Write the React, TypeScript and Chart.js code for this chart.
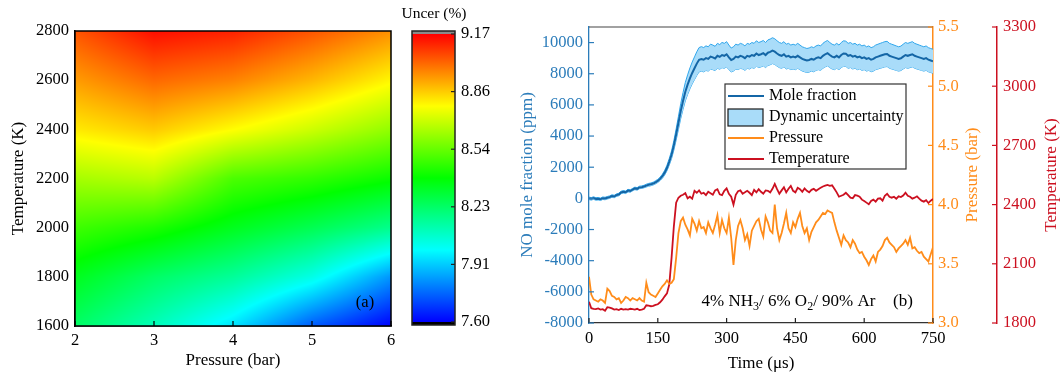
import React, { useEffect, useRef } from 'react';
import { Chart, registerables } from 'chart.js';
Chart.register(...registerables);

const SERIF = "'Liberation Serif', 'Times New Roman', serif";

// ---------- Panel (a): uncertainty map ----------
const pressureBar = [2, 3, 4, 5, 6];
const temperatureK = [1600, 1800, 2000, 2200, 2400, 2600, 2800];
const uncer2bar = [8.23, 8.34, 8.48, 8.64, 8.81, 8.93, 9.04];
const uncer3bar = [8.10, 8.23, 8.43, 8.67, 8.86, 9.01, 9.15];
const uncer4bar = [7.95, 8.15, 8.34, 8.50, 8.78, 8.97, 9.12];
const uncer5bar = [7.74, 8.03, 8.26, 8.46, 8.70, 8.89, 9.04];
const uncer6bar = [7.60, 7.83, 8.17, 8.40, 8.61, 8.79, 8.95];
const colorbarMin = 7.6;
const colorbarMax = 9.17;
const colorbarTickLabels = ['9.17', '8.86', '8.54', '8.23', '7.91', '7.60'];
const pressureTicks = [2, 3, 4, 5, 6];
const temperatureTicks = [1600, 1800, 2000, 2200, 2400, 2600, 2800];

// ---------- Panel (b): time histories ----------
const timeUs = Array.from({ length: 151 }, (_, i) => i * 5);
const moleFractionPpm = [
  0, -30, 20, -40, -20, -60, 10, -10, 40, 80,
  150, 120, 210, 250, 380, 420, 390, 500, 470, 560,
  640, 610, 700, 720, 760, 820, 870, 900, 950, 1030,
  1120, 1250, 1420, 1650, 1950, 2350, 2800, 3400, 4100, 4850,
  5600, 6250, 6850, 7300, 7700, 8050, 8350, 8650, 8900, 8950,
  8900, 9000, 8950, 9100, 9050, 8980, 9150, 9080, 9200, 9150,
  9250, 9050, 8880, 8950, 9100, 9050, 9150, 9100, 9000, 9150,
  9100, 9200, 9150, 9300, 9200, 9250, 9320, 9200, 9350, 9400,
  9480, 9420, 9300, 9200, 9150, 9250, 9100, 9150, 9050, 9100,
  9050, 9150, 9050, 8950, 8900, 8850, 8880, 8950, 8900, 9000,
  9050, 9000, 9150, 9250, 9320, 9200, 9100, 9050, 9150, 9050,
  9200, 9300, 9280, 9150, 9200, 9100, 9150, 9050, 9100, 9000,
  9050, 8950, 9000, 8900, 8950, 9050, 9100, 9150, 9200, 9250,
  9270, 9150, 9100, 9050, 9000, 8950, 8990, 9100, 9200, 9150,
  9200, 9250, 9150, 9100, 9050, 9000, 8950, 9000, 8900, 8850,
  8800,
];
const dynamicUncertaintyPpm = [
  80, 80, 80, 80, 80, 80, 80, 80, 80, 80,
  80, 80, 80, 80, 80, 80, 80, 80, 80, 80,
  80, 80, 80, 80, 80, 90, 90, 90, 90, 100,
  100, 110, 130, 150, 180, 210, 250, 300, 360, 420,
  480, 540, 590, 630, 670, 700, 730, 760, 780, 790,
  780, 790, 780, 800, 790, 780, 800, 790, 810, 800,
  810, 790, 770, 780, 800, 790, 800, 795, 785, 800,
  795, 805, 800, 815, 805, 810, 815, 805, 820, 825,
  830, 825, 815, 805, 800, 810, 795, 800, 790, 795,
  790, 800, 790, 780, 775, 770, 775, 780, 775, 785,
  790, 785, 800, 810, 815, 805, 795, 790, 800, 790,
  805, 815, 810, 800, 805, 795, 800, 790, 795, 785,
  790, 780, 785, 775, 780, 790, 795, 800, 805, 810,
  810, 800, 795, 790, 785, 780, 785, 795, 805, 800,
  805, 810, 800, 795, 790, 785, 780, 785, 775, 770,
  770,
];
const pressureBarSeries = [
  3.39, 3.24, 3.20, 3.19, 3.18, 3.20, 3.19, 3.17, 3.29, 3.27,
  3.23, 3.22, 3.20, 3.21, 3.17, 3.19, 3.22, 3.21, 3.19, 3.21,
  3.20, 3.19, 3.21, 3.19, 3.18, 3.34, 3.26, 3.24, 3.23, 3.22,
  3.25, 3.28, 3.31, 3.33, 3.36, 3.33, 3.34, 3.37, 3.55, 3.76,
  3.86, 3.89, 3.83, 3.79, 3.74, 3.88, 3.84, 3.78, 3.86, 3.80,
  3.81, 3.76, 3.85, 3.80, 3.76, 3.83, 3.91, 3.76, 3.87, 3.80,
  3.76, 3.89, 3.72, 3.49, 3.70, 3.82, 3.87, 3.80, 3.70, 3.75,
  3.65, 3.78, 3.82, 3.86, 3.88, 3.79, 3.73, 3.90, 3.85, 3.78,
  3.76, 4.00, 3.80, 3.70, 3.76, 3.84, 3.93, 3.80, 3.76, 3.85,
  3.81, 3.88, 3.93, 3.82, 3.76, 3.80, 3.70, 3.77, 3.81, 3.85,
  3.87, 3.90, 3.93, 3.92, 3.95, 3.94, 3.93, 3.85, 3.78, 3.72,
  3.66, 3.74, 3.70, 3.68, 3.64, 3.70, 3.67, 3.62, 3.59, 3.60,
  3.56, 3.53, 3.49, 3.54, 3.57, 3.52, 3.60, 3.62, 3.65, 3.70,
  3.72, 3.68, 3.66, 3.64, 3.60, 3.63, 3.65, 3.67, 3.70, 3.66,
  3.72, 3.63, 3.64, 3.61, 3.59, 3.60, 3.56, 3.54, 3.52, 3.58,
  3.64,
];
const temperatureSeriesK = [
  1908, 1875, 1872, 1870, 1874, 1868, 1870, 1862, 1880, 1878,
  1874, 1868, 1870, 1866, 1872, 1868, 1870, 1868, 1872, 1870,
  1868, 1872, 1866, 1868, 1872, 1890, 1888, 1885, 1887, 1892,
  1895, 1905, 1918, 1935, 1950, 1995, 2130, 2290, 2410, 2435,
  2445, 2450, 2458, 2432, 2440, 2430, 2470, 2460, 2472, 2455,
  2460, 2448, 2465, 2458, 2450, 2472, 2478, 2452, 2448, 2470,
  2482, 2455, 2440, 2400, 2450, 2468, 2472, 2455, 2462, 2470,
  2460, 2448, 2475, 2462, 2478, 2465, 2455, 2472, 2470, 2462,
  2480, 2505, 2478, 2455, 2472, 2488, 2462, 2480, 2495, 2470,
  2462, 2485, 2478, 2465, 2482, 2470, 2462, 2475, 2480, 2470,
  2478, 2485, 2492, 2496, 2500, 2495, 2498, 2480, 2462, 2440,
  2445, 2450, 2460, 2448, 2435, 2432, 2448, 2445, 2440, 2425,
  2418, 2410, 2402, 2418, 2425, 2415, 2430, 2432, 2420, 2445,
  2455, 2440, 2435, 2440, 2430, 2442, 2438, 2446, 2460, 2445,
  2440, 2430, 2435, 2442, 2430, 2420, 2415, 2422, 2408, 2420,
  2428,
];
const timeTicks = [0, 150, 300, 450, 600, 750];
const moleTicks = [-8000, -6000, -4000, -2000, 0, 2000, 4000, 6000, 8000, 10000];
const pressureAxisTicks = [3.0, 3.5, 4.0, 4.5, 5.0, 5.5];
const temperatureAxisTicks = [1800, 2100, 2400, 2700, 3000, 3300];

// ---------- styling ----------
const C_BLUE_AX = '#2b7cba';
const C_MOLE = '#1466a6';
const C_BAND_EDGE = '#2fa6ec';
const C_BAND_FILL = '#a9dcf9';
const C_PRES = '#ff8c1a';
const C_TEMP = '#cc1020';
const cmapStops: number[][] = [
  [0, 0, 0, 255],
  [0.25, 0, 255, 255],
  [0.5, 0, 255, 0],
  [0.75, 255, 255, 0],
  [1, 255, 0, 0],
];

function colorFor(v: number): number[] {
  let f = (v - colorbarMin) / (colorbarMax - colorbarMin);
  f = Math.max(0, Math.min(1, f));
  for (let k = 0; k < cmapStops.length - 1; k++) {
    const a = cmapStops[k], b = cmapStops[k + 1];
    if (f <= b[0]) {
      const t = (f - a[0]) / (b[0] - a[0]);
      return [a[1] + (b[1] - a[1]) * t, a[2] + (b[2] - a[2]) * t, a[3] + (b[3] - a[3]) * t];
    }
  }
  const l = cmapStops[cmapStops.length - 1];
  return [l[1], l[2], l[3]];
}

const uncerGrid = [uncer2bar, uncer3bar, uncer4bar, uncer5bar, uncer6bar];
function seg(arr: number[], v: number): [number, number] {
  let i = 0;
  while (i < arr.length - 2 && v > arr[i + 1]) i++;
  const f = (v - arr[i]) / (arr[i + 1] - arr[i]);
  return [i, Math.max(0, Math.min(1, f))];
}
function uncerAt(p: number, t: number) {
  const [i, fp] = seg(pressureBar, p);
  const [j, ft] = seg(temperatureK, t);
  const g = uncerGrid;
  const a = g[i][j] * (1 - ft) + g[i][j + 1] * ft;
  const b = g[i + 1][j] * (1 - ft) + g[i + 1][j + 1] * ft;
  return a * (1 - fp) + b * fp;
}

type TickSpec = { id: string; len: number; color: string; width: number; atLeftEdge?: boolean };
function drawTickMarks(chart: any, specs: TickSpec[]) {
  const ctx = chart.ctx;
  specs.forEach((s) => {
    const sc = chart.scales[s.id];
    ctx.save();
    ctx.strokeStyle = s.color;
    ctx.lineWidth = s.width;
    sc.ticks.forEach((t: any) => {
      const p = sc.getPixelForValue(t.value);
      ctx.beginPath();
      if (sc.isHorizontal()) {
        ctx.moveTo(p, sc.top);
        ctx.lineTo(p, sc.top + s.len);
      } else {
        const x0 = s.atLeftEdge ? sc.left : sc.right;
        ctx.moveTo(x0, p);
        ctx.lineTo(x0 + s.len, p);
      }
      ctx.stroke();
    });
    ctx.restore();
  });
}

const heatmapPlugin = {
  id: 'heatmap',
  beforeDatasetsDraw(chart: any) {
    const { ctx, chartArea: a, scales } = chart;
    const x0 = Math.round(a.left), y0 = Math.round(a.top);
    const w = Math.round(a.right) - x0, h = Math.round(a.bottom) - y0;
    const off = document.createElement('canvas');
    off.width = w;
    off.height = h;
    const octx = off.getContext('2d')!;
    const img = octx.createImageData(w, h);
    for (let j = 0; j < h; j++) {
      const T = scales.y.getValueForPixel(y0 + j + 0.5);
      for (let i = 0; i < w; i++) {
        const P = scales.x.getValueForPixel(x0 + i + 0.5);
        const c = colorFor(uncerAt(P, T));
        const k = (j * w + i) * 4;
        img.data[k] = c[0];
        img.data[k + 1] = c[1];
        img.data[k + 2] = c[2];
        img.data[k + 3] = 255;
      }
    }
    octx.putImageData(img, 0, 0);
    ctx.drawImage(off, x0, y0);
  },
  afterDatasetsDraw(chart: any) {
    const { ctx, chartArea: a } = chart;
    ctx.save();
    ctx.strokeStyle = '#000';
    ctx.lineWidth = 1.5;
    ctx.strokeRect(a.left, a.top, a.right - a.left, a.bottom - a.top);
    ctx.restore();
    drawTickMarks(chart, [{ id: 'x', len: -5, color: '#000', width: 1.2 }]);
    ctx.save();
    ctx.font = `16.5px ${SERIF}`;
    ctx.fillStyle = '#000';
    ctx.textAlign = 'center';
    ctx.textBaseline = 'middle';
    ctx.fillText('(a)', a.right - 26, a.bottom - 23);
    ctx.restore();
  },
};

const colorbarPlugin = {
  id: 'colorbar',
  afterDraw(chart: any) {
    const ctx = chart.ctx;
    const L = 412, R = 455, T = 31, B = 325, iT = 34, iB = 322;
    ctx.save();
    const g = ctx.createLinearGradient(0, iB, 0, iT);
    cmapStops.forEach((s) => g.addColorStop(s[0], `rgb(${s[1]},${s[2]},${s[3]})`));
    ctx.fillStyle = g;
    ctx.fillRect(L, iT, R - L, iB - iT);
    ctx.fillStyle = '#8a8a8a';
    ctx.fillRect(L, T, R - L, iT - T);
    ctx.fillStyle = '#000';
    ctx.fillRect(L, iB, R - L, B - iB);
    ctx.strokeStyle = '#222';
    ctx.lineWidth = 1.5;
    ctx.strokeRect(L, T, R - L, B - T);
    ctx.font = `16.5px ${SERIF}`;
    ctx.fillStyle = '#000';
    ctx.textBaseline = 'middle';
    ctx.textAlign = 'left';
    const n = colorbarTickLabels.length;
    colorbarTickLabels.forEach((lab, k) => {
      const y = iT + (k * (iB - iT)) / (n - 1);
      ctx.beginPath();
      ctx.moveTo(R, y);
      ctx.lineTo(R - 4, y);
      ctx.lineWidth = 1.2;
      ctx.stroke();
      ctx.fillText(lab, R + 6, y);
    });
    ctx.textAlign = 'center';
    ctx.font = `15.5px ${SERIF}`;
    ctx.fillText('Uncer (%)', 434, 14);
    ctx.restore();
  },
};

const rightDecorPlugin = {
  id: 'rightDecor',
  afterDatasetsDraw(chart: any) {
    const { ctx, chartArea: a, data } = chart;
    ctx.save();
    ctx.strokeStyle = '#444';
    ctx.lineWidth = 1.2;
    ctx.beginPath();
    ctx.moveTo(a.left, a.top);
    ctx.lineTo(a.right, a.top);
    ctx.stroke();
    ctx.restore();

    drawTickMarks(chart, [
      { id: 'x', len: -5, color: '#222', width: 1.2 },
      { id: 'yNO', len: 5, color: C_BLUE_AX, width: 1.2 },
      { id: 'yP', len: -5, color: C_PRES, width: 1.2, atLeftEdge: true },
      { id: 'yT', len: -5, color: C_TEMP, width: 1.2, atLeftEdge: true },
    ]);

    // legend
    ctx.save();
    const bx = 220, by = 84, bw = 181, bh = 85;
    ctx.fillStyle = '#fff';
    ctx.fillRect(bx, by, bw, bh);
    ctx.strokeStyle = '#333';
    ctx.lineWidth = 1.2;
    ctx.strokeRect(bx, by, bw, bh);
    ctx.font = `16px ${SERIF}`;
    ctx.textBaseline = 'middle';
    ctx.textAlign = 'left';
    ctx.fillStyle = '#000';
    const rows = [0, 1, 3, 4];
    rows.forEach((di, r) => {
      const ds = data.datasets[di];
      const y = by + 12 + r * 21;
      if (di === 1) {
        ctx.fillStyle = C_BAND_FILL;
        ctx.fillRect(bx + 3, y - 8, 35, 17);
        ctx.strokeStyle = '#1a1a1a';
        ctx.lineWidth = 1.2;
        ctx.strokeRect(bx + 3, y - 8, 35, 17);
      } else {
        ctx.strokeStyle = ds.borderColor;
        ctx.lineWidth = 2;
        ctx.beginPath();
        ctx.moveTo(bx + 3, y);
        ctx.lineTo(bx + 39, y);
        ctx.stroke();
      }
      ctx.fillStyle = '#000';
      ctx.fillText(ds.label, bx + 44, y);
    });
    ctx.restore();

    // mixture annotation
    ctx.save();
    ctx.fillStyle = '#000';
    ctx.textBaseline = 'alphabetic';
    ctx.textAlign = 'left';
    const big = `17px ${SERIF}`, small = `12px ${SERIF}`;
    const parts: [string, boolean][] = [
      ['4% NH', false], ['3', true], ['/ 6% O', false], ['2', true], ['/ 90% Ar', false],
    ];
    let x = 196.5;
    const base = 306;
    parts.forEach(([s, sub]) => {
      ctx.font = sub ? small : big;
      ctx.fillText(s, x, sub ? base + 4 : base);
      x += ctx.measureText(s).width;
    });
    ctx.font = big;
    ctx.fillText('(b)', 388, base);
    ctx.restore();
  },
  afterDraw(chart: any) {
    const { ctx, chartArea: a } = chart;
    const cy = (a.top + a.bottom) / 2;
    ctx.save();
    ctx.font = `17px ${SERIF}`;
    ctx.textAlign = 'center';
    ctx.textBaseline = 'middle';
    const drawV = (text: string, x: number, color: string) => {
      ctx.save();
      ctx.translate(x, cy);
      ctx.rotate(-Math.PI / 2);
      ctx.fillStyle = color;
      ctx.fillText(text, 0, 0);
      ctx.restore();
    };
    drawV('Pressure (bar)', chart.scales.yP.left + 40, C_PRES);
    drawV('Temperature (K)', chart.scales.yT.left + 55, C_TEMP);
    ctx.restore();
  },
};

export default function App() {
  const leftRef = useRef<HTMLCanvasElement>(null);
  const rightRef = useRef<HTMLCanvasElement>(null);

  useEffect(() => {
    Chart.defaults.font.family = SERIF;
    Chart.defaults.color = '#000';

    const gridPoints: { x: number; y: number }[] = [];
    pressureBar.forEach((p) => temperatureK.forEach((t) => gridPoints.push({ x: p, y: t })));

    const left = new Chart(leftRef.current!, {
      type: 'scatter',
      data: {
        datasets: [{ label: 'Uncer (%)', data: gridPoints, pointRadius: 0, showLine: false }],
      },
      options: {
        responsive: false,
        animation: false,
        events: [],
        layout: { padding: { left: 0, top: 31, right: 114, bottom: 0 } },
        plugins: { legend: { display: false }, tooltip: { enabled: false } },
        scales: {
          x: {
            type: 'linear',
            min: 2,
            max: 6,
            afterBuildTicks: (s: any) => { s.ticks = pressureTicks.map((v) => ({ value: v })); },
            afterFit: (s: any) => { s.height = 52; },
            grid: { display: false, drawTicks: false },
            border: { display: true, color: '#000', width: 1.5 },
            ticks: { color: '#000', font: { size: 16.5 }, padding: 5, maxRotation: 0, autoSkip: false, callback: (v: any) => String(v) },
            title: { display: true, text: 'Pressure (bar)', color: '#000', font: { size: 17 }, padding: { top: 0, bottom: 7 } },
          },
          y: {
            type: 'linear',
            min: 1600,
            max: 2800,
            afterBuildTicks: (s: any) => { s.ticks = temperatureTicks.map((v) => ({ value: v })); },
            afterFit: (s: any) => { s.width = 75; },
            grid: { display: false, drawTicks: false },
            border: { display: true, color: '#000', width: 1.5 },
            ticks: { color: '#000', font: { size: 16.5 }, padding: 6, autoSkip: false, callback: (v: any) => String(v) },
            title: { display: true, text: 'Temperature (K)', color: '#000', font: { size: 17 }, padding: { top: 8, bottom: 0 } },
          },
        },
      },
      plugins: [heatmapPlugin, colorbarPlugin],
    } as any);

    const xy = (arr: number[]) => timeUs.map((t, i) => ({ x: t, y: arr[i] }));
    const upper = moleFractionPpm.map((v, i) => v + dynamicUncertaintyPpm[i]);
    const lower = moleFractionPpm.map((v, i) => v - dynamicUncertaintyPpm[i]);

    const right = new Chart(rightRef.current!, {
      type: 'line',
      data: {
        datasets: [
          { label: 'Mole fraction', data: xy(moleFractionPpm), yAxisID: 'yNO', borderColor: C_MOLE, borderWidth: 2, pointRadius: 0, fill: false },
          { label: 'Dynamic uncertainty', data: xy(upper), yAxisID: 'yNO', borderColor: C_BAND_EDGE, backgroundColor: C_BAND_FILL, borderWidth: 1, pointRadius: 0, fill: '+1' },
          { label: 'Dynamic uncertainty (lower)', data: xy(lower), yAxisID: 'yNO', borderColor: C_BAND_EDGE, borderWidth: 1, pointRadius: 0, fill: false },
          { label: 'Pressure', data: xy(pressureBarSeries), yAxisID: 'yP', borderColor: C_PRES, borderWidth: 1.8, pointRadius: 0, fill: false },
          { label: 'Temperature', data: xy(temperatureSeriesK), yAxisID: 'yT', borderColor: C_TEMP, borderWidth: 1.8, pointRadius: 0, fill: false },
        ],
      },
      options: {
        responsive: false,
        animation: false,
        events: [],
        layout: { padding: { left: 0, top: 27, right: 0, bottom: 0 } },
        plugins: { legend: { display: false }, tooltip: { enabled: false } },
        elements: { line: { tension: 0 }, point: { radius: 0 } },
        scales: {
          x: {
            type: 'linear',
            min: 0,
            max: 750,
            afterBuildTicks: (s: any) => { s.ticks = timeTicks.map((v) => ({ value: v })); },
            afterFit: (s: any) => { s.height = 55; },
            grid: { display: false, drawTicks: false },
            border: { display: true, color: '#333', width: 1.3 },
            ticks: { color: '#000', font: { size: 16.5 }, padding: 6, maxRotation: 0, autoSkip: false, callback: (v: any) => String(v) },
            title: { display: true, text: 'Time (μs)', color: '#000', font: { size: 17 }, padding: { top: 0, bottom: 4 } },
          },
          yNO: {
            type: 'linear',
            position: 'left',
            min: -8000,
            max: 11000,
            afterBuildTicks: (s: any) => { s.ticks = moleTicks.map((v) => ({ value: v })); },
            afterFit: (s: any) => { s.width = 84; },
            grid: { display: false, drawTicks: false },
            border: { display: true, color: C_BLUE_AX, width: 1.3 },
            ticks: { color: C_BLUE_AX, font: { size: 16.5 }, padding: 6, autoSkip: false, callback: (v: any) => String(v) },
            title: { display: true, text: 'NO mole fraction (ppm)', color: C_BLUE_AX, font: { size: 17 }, padding: { top: 12, bottom: 0 } },
          },
          yP: {
            type: 'linear',
            position: 'right',
            min: 3,
            max: 5.5,
            afterBuildTicks: (s: any) => { s.ticks = pressureAxisTicks.map((v) => ({ value: v })); },
            afterFit: (s: any) => { s.width = 64; },
            grid: { display: false, drawTicks: false },
            border: { display: true, color: C_PRES, width: 1.5 },
            ticks: { color: C_PRES, font: { size: 16.5 }, padding: 5, autoSkip: false, callback: (v: any) => Number(v).toFixed(1) },
          },
          yT: {
            type: 'linear',
            position: 'right',
            min: 1800,
            max: 3300,
            afterBuildTicks: (s: any) => { s.ticks = temperatureAxisTicks.map((v) => ({ value: v })); },
            afterFit: (s: any) => { s.width = 65; },
            grid: { display: false, drawTicks: false },
            border: { display: true, color: C_TEMP, width: 1.5 },
            ticks: { color: C_TEMP, font: { size: 16.5 }, padding: 6, autoSkip: false, callback: (v: any) => String(v) },
          },
        },
      },
      plugins: [rightDecorPlugin],
    } as any);

    return () => {
      left.destroy();
      right.destroy();
    };
  }, []);

  return (
    <div style={{ position: 'fixed', left: 0, top: 0, width: 1062, height: 378, background: '#fff' }}>
      <canvas ref={leftRef} width={505} height={378} style={{ position: 'absolute', left: 0, top: 0 }} />
      <canvas ref={rightRef} width={557} height={378} style={{ position: 'absolute', left: 505, top: 0 }} />
    </div>
  );
}
